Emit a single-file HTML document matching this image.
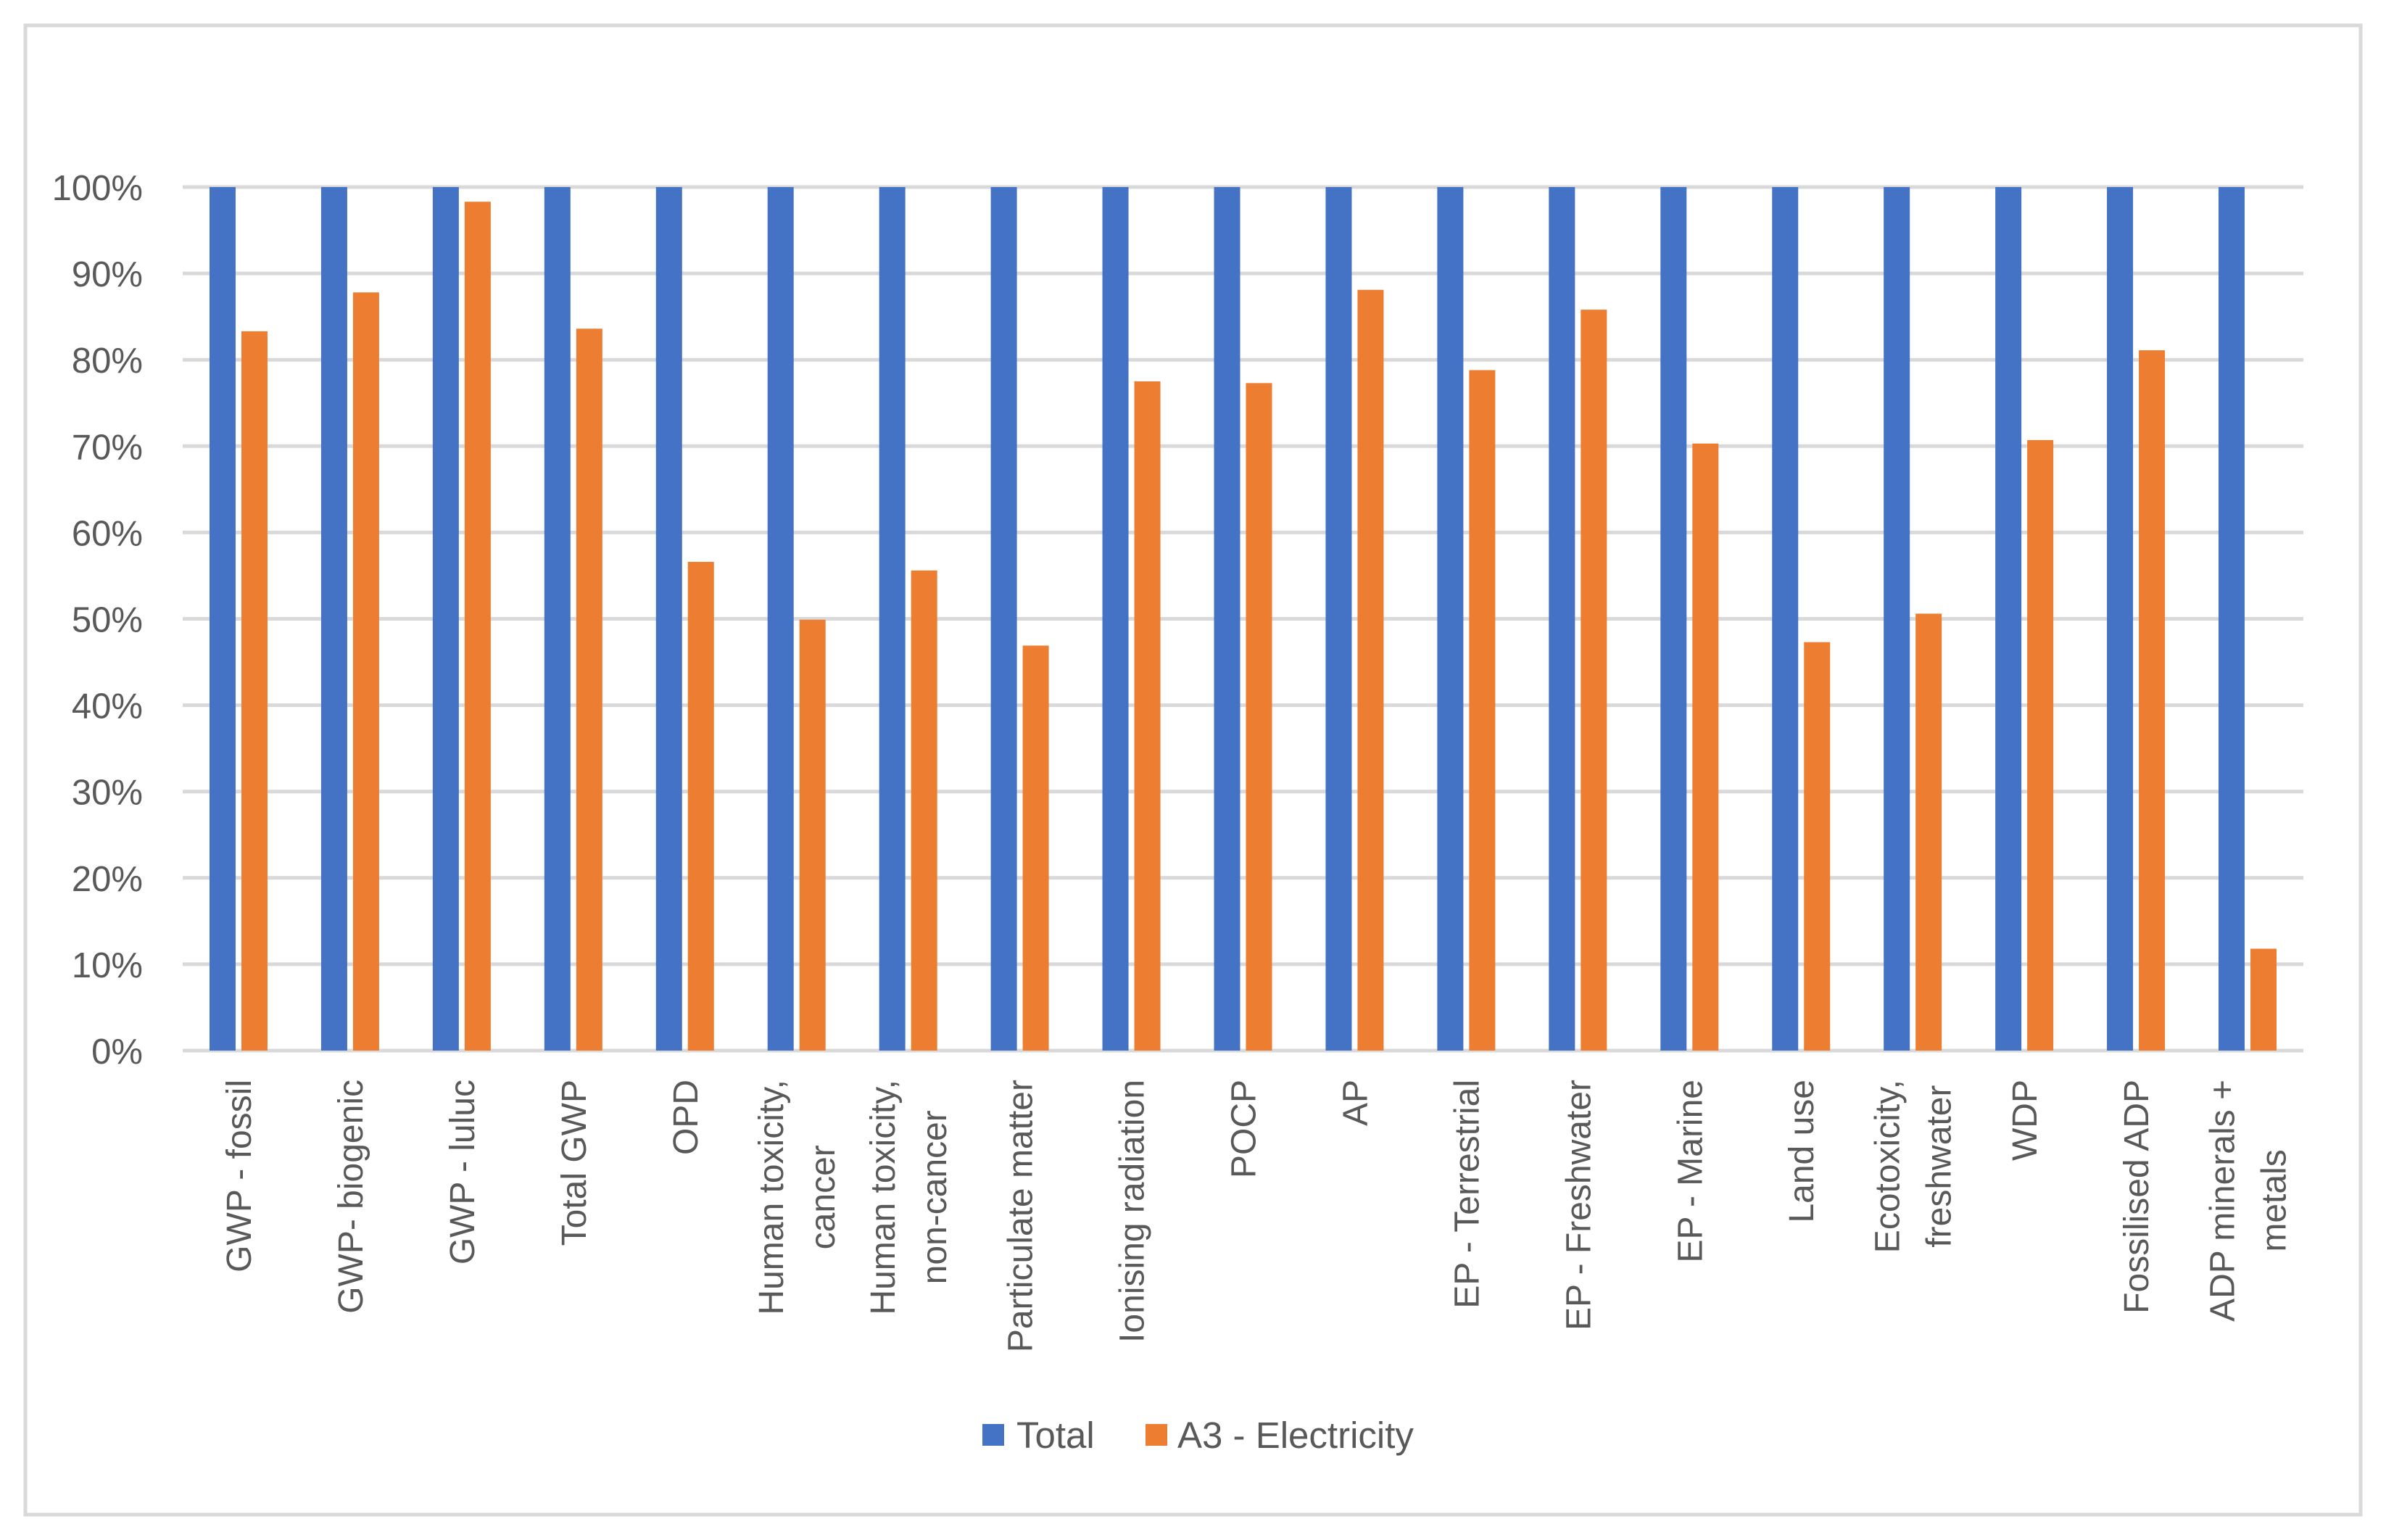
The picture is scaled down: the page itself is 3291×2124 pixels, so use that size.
<!DOCTYPE html>
<html><head><meta charset="utf-8"><style>
html,body{margin:0;padding:0;background:#fff;}
svg{display:block;}
</style></head><body>
<svg id="chart" width="3291" height="2124" xmlns="http://www.w3.org/2000/svg">
<rect x="35" y="35" width="3221" height="2054" fill="#fff" stroke="#d9d9d9" stroke-width="5"/>
<g id="grid"></g><g id="ylabels"></g><g id="bars"></g><g id="xlabels"></g>
<g>
<rect x="1355" y="1964" width="30" height="30" fill="#4472c4"/>
<text x="1402" y="1997" font-family="Liberation Sans, sans-serif" font-size="51" fill="#595959">Total</text>
<rect x="1580" y="1964" width="30" height="30" fill="#ed7d31"/>
<text x="1624" y="1997" font-family="Liberation Sans, sans-serif" font-size="51" fill="#595959">A3 - Electricity</text>
</g>
</svg>
<script>
const categories = [["GWP - fossil"],["GWP- biogenic"],["GWP - luluc"],["Total GWP"],["OPD"],["Human toxicity,","cancer"],["Human toxicity,","non-cancer"],["Particulate matter"],["Ionising radiation"],["POCP"],["AP"],["EP - Terrestrial"],["EP - Freshwater"],["EP - Marine"],["Land use"],["Ecotoxicity,","freshwater"],["WDP"],["Fossilised ADP"],["ADP minerals +","metals"]];
const totalValues = [100,100,100,100,100,100,100,100,100,100,100,100,100,100,100,100,100,100,100];
const electricityValues = [83.3,87.8,98.3,83.6,56.6,49.9,55.6,46.9,77.5,77.3,88.1,78.8,85.8,70.3,47.3,50.6,70.7,81.1,11.8];
const yTicks = [0,10,20,30,40,50,60,70,80,90,100];

const NS="http://www.w3.org/2000/svg";
const X0=252, X1=3177, Y0=1449, Y100=258;
const band=(X1-X0)/categories.length;
function y(v){return Y0-(v/100)*(Y0-Y100);}
function cx(i){return X0+band*(i+0.5);}
function mk(tag,attrs,parent){const e=document.createElementNS(NS,tag);for(const k in attrs)e.setAttribute(k,attrs[k]);parent.appendChild(e);return e;}
const grid=document.getElementById('grid'),yl=document.getElementById('ylabels'),bars=document.getElementById('bars'),xl=document.getElementById('xlabels');
yTicks.forEach(t=>{
  const l=mk('line',{x1:X0,x2:X1,y1:y(t),y2:y(t),stroke:'#d9d9d9','stroke-width':5},grid);
  
  
  const tx=mk('text',{x:197,y:y(t)+18,'text-anchor':'end','font-family':'Liberation Sans, sans-serif','font-size':49,fill:'#595959'},yl);
  tx.textContent=t+'%';
  
  
});
const bw=36,gap=8;
categories.forEach((c,i)=>{
  const c0=cx(i);
  const b1=mk('rect',{x:c0-gap/2-bw,y:y(totalValues[i]),width:bw,height:Y0-y(totalValues[i]),fill:'#4472c4'},bars);
  
  
  const b2=mk('rect',{x:c0+gap/2,y:y(electricityValues[i]),width:bw,height:Y0-y(electricityValues[i]),fill:'#ed7d31'},bars);
  
  
  const n=c.length, lh=71;
  const texts=[];
  c.forEach((line,j)=>{
    const lx=c0+(j-(n-1)/2)*lh+17;
    const t=mk('text',{x:lx,y:1489,'text-anchor':'middle','font-family':'Liberation Sans, sans-serif','font-size':48,fill:'#595959'},xl);
    t.textContent=line;
    
    
    texts.push([t,lx]);
  });
  let maxW=0;
  texts.forEach(([t])=>{maxW=Math.max(maxW,t.getComputedTextLength());});
  texts.forEach(([t,lx])=>{
    const yy=1489+maxW/2;
    t.setAttribute('y',yy);
    t.setAttribute('transform','rotate(-90 '+lx+' '+yy+')');
  });
});
</script>
</body></html>
